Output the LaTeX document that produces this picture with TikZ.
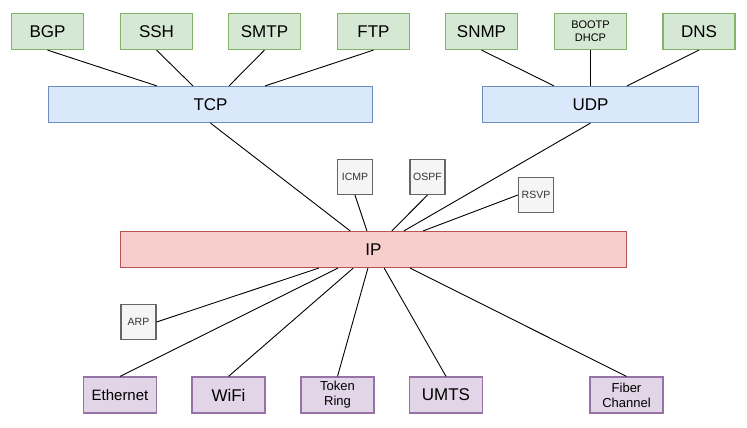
\documentclass[tikz,border=0pt]{standalone}
\usepackage{fontspec}
\setmainfont{Liberation Sans}
\usetikzlibrary{calc}
\definecolor{gfill}{HTML}{D5E8D4}\definecolor{gline}{HTML}{82B366}
\definecolor{bfill}{HTML}{DAE8FC}\definecolor{bline}{HTML}{6C8EBF}
\definecolor{rfill}{HTML}{F8CECC}\definecolor{rline}{HTML}{B85450}
\definecolor{pfill}{HTML}{E1D5E7}\definecolor{pline}{HTML}{9673A6}
\definecolor{kfill}{HTML}{F5F5F5}\definecolor{kline}{HTML}{666666}
\definecolor{ktext}{HTML}{333333}
\tikzset{
  box/.style={draw, line width=1.2pt, inner sep=0pt, minimum height=36pt, align=center},
  app/.style={box, fill=gfill, draw=gline, minimum width=72pt, font=\fontsize{17}{19}\selectfont},
  appsmall/.style={app, font=\fontsize{11}{13}\selectfont},
  trans/.style={box, fill=bfill, draw=bline, font=\fontsize{17}{19}\selectfont},
  net/.style={box, fill=rfill, draw=rline, font=\fontsize{17}{19}\selectfont},
  link/.style={box, fill=pfill, draw=pline, minimum width=73pt, font=\fontsize{17}{19}\selectfont},
  linkmid/.style={link, font=\fontsize{15}{17}\selectfont},
  linksmall/.style={link, font=\fontsize{13}{15}\selectfont},
  aux/.style={box, fill=kfill, draw=kline, minimum width=35pt, minimum height=35pt, text=ktext, font=\fontsize{10.5}{12}\selectfont},
  wire/.style={draw=black, line width=0.9pt}
}
\begin{document}
\begin{tikzpicture}[x=1pt,y=-1pt]
\useasboundingbox (0,0) rectangle (747,428);
% application layer
\node[app] (bgp) at (47.5,31.5) {BGP};
\node[app] (ssh) at (156.5,31.5) {SSH};
\node[app] (smtp) at (264.5,31.5) {SMTP};
\node[app] (ftp) at (373.5,31.5) {FTP};
\node[app] (snmp) at (481.5,31.5) {SNMP};
\node[appsmall] (boot) at (590.5,31.5) {BOOTP\\DHCP};
\node[app] (dns) at (699,31.5) {DNS};
% transport
\node[trans, minimum width=324pt] (tcp) at (210.5,104.5) {TCP};
\node[trans, minimum width=216pt] (udp) at (590.5,104.5) {UDP};
% network
\node[net, minimum width=506pt] (ip) at (373.5,249.5) {IP};
\node[aux] (icmp) at (355,177) {ICMP};
\node[aux] (ospf) at (427.5,177) {OSPF};
\node[aux] (rsvp) at (536,195) {RSVP};
\node[aux] (arp) at (138.5,322) {ARP};
% link
\node[linkmid] (eth) at (120,395) {Ethernet};
\node[link] (wifi) at (228.5,395) {WiFi};
\node[linksmall] (tok) at (337.5,395) {Token\\Ring};
\node[link] (umts) at (446,395) {UMTS};
\node[linksmall] (fib) at (626.5,395) {Fiber\\Channel};
% connectors app -> transport
\draw[wire] (bgp.south) -- ($(tcp.north west)!0.335!(tcp.north east)$);
\draw[wire] (ssh.south) -- ($(tcp.north west)!0.446!(tcp.north east)$);
\draw[wire] (smtp.south) -- ($(tcp.north west)!0.557!(tcp.north east)$);
\draw[wire] (ftp.south) -- ($(tcp.north west)!0.668!(tcp.north east)$);
\draw[wire] (snmp.south) -- ($(udp.north west)!0.332!(udp.north east)$);
\draw[wire] (boot.south) -- ($(udp.north west)!0.5!(udp.north east)$);
\draw[wire] (dns.south) -- ($(udp.north west)!0.668!(udp.north east)$);
% transport/aux -> IP
\draw[wire] (tcp.south) -- ($(ip.north west)!0.454!(ip.north east)$);
\draw[wire] (icmp.south) -- ($(ip.north west)!0.487!(ip.north east)$);
\draw[wire] (ospf.south) -- ($(ip.north west)!0.536!(ip.north east)$);
\draw[wire] (udp.south) -- ($(ip.north west)!0.560!(ip.north east)$);
\draw[wire] (rsvp.west) -- ($(ip.north west)!0.598!(ip.north east)$);
% IP -> link
\draw[wire] (arp.east) -- ($(ip.south west)!0.392!(ip.south east)$);
\draw[wire] (eth.north) -- ($(ip.south west)!0.430!(ip.south east)$);
\draw[wire] (wifi.north) -- ($(ip.south west)!0.460!(ip.south east)$);
\draw[wire] (tok.north) -- ($(ip.south west)!0.489!(ip.south east)$);
\draw[wire] (umts.north) -- ($(ip.south west)!0.521!(ip.south east)$);
\draw[wire] (fib.north) -- ($(ip.south west)!0.572!(ip.south east)$);
\end{tikzpicture}
\end{document}
